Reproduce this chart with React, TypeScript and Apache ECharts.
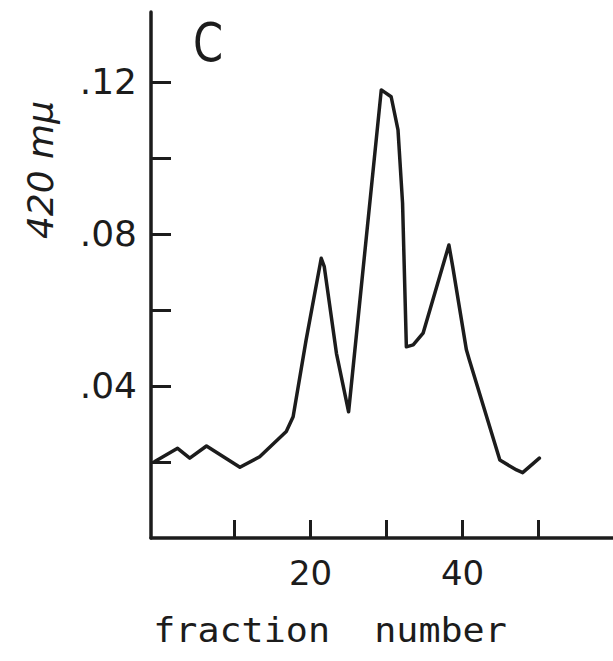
import React, { useEffect, useRef } from "react";
import * as echarts from "echarts";

// fraction number (x) and absorbance at 420 mμ (y)
const fractions = [-0.5, 2.5, 4.1, 6.3, 10.7, 13.3, 16.8, 17.7, 19.4, 21.4, 21.8, 23.4, 25.0, 25.6, 29.3, 30.6, 31.5, 32.1, 32.6, 33.5, 34.8, 38.2, 38.7, 40.5, 40.9, 44.9, 47.1, 47.9, 50.1];
const absorbance = [0.0201, 0.0236, 0.021, 0.0242, 0.0186, 0.0214, 0.028, 0.0319, 0.052, 0.0736, 0.0714, 0.0486, 0.0332, 0.045, 0.1179, 0.1161, 0.1074, 0.0881, 0.0503, 0.0508, 0.0539, 0.0771, 0.0714, 0.0495, 0.0468, 0.0205, 0.0179, 0.0172, 0.021];

const xTicks = [10, 20, 30, 40, 50];
const xTickLabels = [20, 40];
const yTicks = [0.02, 0.04, 0.06, 0.08, 0.1, 0.12];
const yTickLabels = [0.04, 0.08, 0.12];

const panelLabel = "C";
const xTitle = "fraction  number";
const yTitle = "420 mμ";

const INK = "#1c1c1c";

export default function App() {
  const ref = useRef<HTMLDivElement>(null);
  useEffect(() => {
    if (!ref.current) return;
    const chart = echarts.init(ref.current, null, { renderer: "svg" });
    const data = fractions.map((f, i) => [f, absorbance[i]]);
    chart.setOption({
      animation: false,
      backgroundColor: "#ffffff",
      grid: { left: 151, top: 12, width: 463.6, height: 526, containLabel: false, outerBoundsMode: "none" },
      xAxis: {
        type: "value",
        min: -1,
        max: 60,
        axisLine: { onZero: false, lineStyle: { color: INK, width: 3.5 } },
        axisTick: { inside: true, length: 18, customValues: xTicks, lineStyle: { color: INK, width: 3 } },
        axisLabel: {
          customValues: xTickLabels,
          margin: 18,
          color: INK,
          fontSize: 34,
          fontFamily: "DejaVu Sans",
        },
        splitLine: { show: false },
      },
      yAxis: {
        type: "value",
        min: 0,
        max: 0.1384,
        axisLine: { show: true, onZero: false, lineStyle: { color: INK, width: 3.5 } },
        axisTick: { show: true, inside: true, length: 20, customValues: yTicks, lineStyle: { color: INK, width: 3 } },
        axisLabel: {
          customValues: yTickLabels,
          margin: 14,
          color: INK,
          fontSize: 36,
          fontFamily: "DejaVu Sans",
          formatter: (v: number) => v.toFixed(2).replace(/^0/, ""),
        },
        splitLine: { show: false },
      },
      graphic: [
        {
          type: "text",
          x: 208,
          y: 43,
          scaleX: 0.8,
          style: {
            text: panelLabel,
            fontSize: 54,
            fontFamily: "DejaVu Sans",
            fill: INK,
            align: "center",
            verticalAlign: "middle",
          },
        },
        {
          type: "text",
          x: 330,
          y: 630,
          scaleX: 1.08,
          style: {
            text: xTitle,
            fontSize: 34,
            fontFamily: "DejaVu Sans Mono",
            fill: INK,
            align: "center",
            verticalAlign: "middle",
          },
        },
        {
          type: "text",
          x: 40,
          y: 170,
          rotation: Math.PI / 2,
          style: {
            text: yTitle,
            fontSize: 36,
            fontStyle: "italic",
            fontFamily: "DejaVu Sans",
            fill: INK,
            align: "center",
            verticalAlign: "middle",
          },
        },
      ],
      series: [
        {
          type: "line",
          data,
          showSymbol: false,
          smooth: false,
          lineStyle: { color: INK, width: 3.5, cap: "round", join: "round" },
        },
      ],
    });
    return () => chart.dispose();
  }, []);
  return (
    <div
      ref={ref}
      style={{ position: "fixed", left: 0, top: 0, width: 613, height: 661, background: "#fff" }}
    />
  );
}
